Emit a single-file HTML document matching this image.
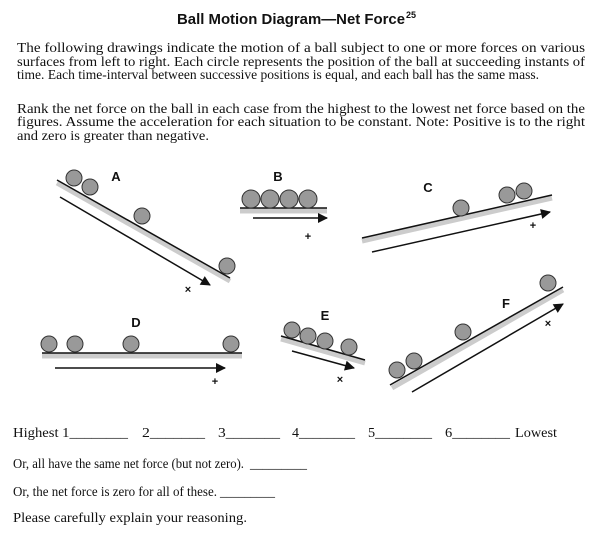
<!DOCTYPE html>
<html><head><style>
body{margin:0;background:#fff}
svg{display:block}
.s{font-family:"Liberation Serif",serif;font-size:13.5px;fill:#111}
.h{font-family:"Liberation Sans",sans-serif;font-weight:bold;fill:#111}
</style></head><body>
<svg width="600" height="543" viewBox="0 0 600 543" xmlns="http://www.w3.org/2000/svg">
<defs>
<marker id="a2" viewBox="0 0 10 10" refX="9" refY="5" markerWidth="15" markerHeight="10" orient="auto" markerUnits="userSpaceOnUse"><path d="M0,0 L10,5 L0,10z" fill="#111"/></marker></defs>
<text class="h" x="177" y="24" font-size="15" textLength="228" lengthAdjust="spacingAndGlyphs">Ball Motion Diagram—Net Force</text><text class="h" x="406" y="18" font-size="9">25</text>
<g class="s">
<text x="17" y="52" textLength="568" lengthAdjust="spacingAndGlyphs">The following drawings indicate the motion of a ball subject to one or more forces on various</text>
<text x="17" y="66" textLength="568" lengthAdjust="spacingAndGlyphs">surfaces from left to right. Each circle represents the position of the ball at succeeding instants of</text>
<text x="17" y="79" textLength="522" lengthAdjust="spacingAndGlyphs">time. Each time-interval between successive positions is equal, and each ball has the same mass.</text>
<text x="17" y="113" textLength="568" lengthAdjust="spacingAndGlyphs">Rank the net force on the ball in each case from the highest to the lowest net force based on the</text>
<text x="17" y="126" textLength="568" lengthAdjust="spacingAndGlyphs">figures. Assume the acceleration for each situation to be constant. Note: Positive is to the right</text>
<text x="17" y="140" textLength="192" lengthAdjust="spacingAndGlyphs">and zero is greater than negative.</text>
</g>
<g stroke="#ccc" stroke-width="5" fill="none">
<line x1="57" y1="183" x2="230" y2="281"/><line x1="240" y1="211" x2="327" y2="211"/>
<line x1="362" y1="241" x2="552" y2="198"/><line x1="42" y1="356" x2="242" y2="356"/>
<line x1="281" y1="339" x2="365" y2="363"/><line x1="392" y1="388" x2="563" y2="290"/></g>
<g stroke="#111" stroke-width="1.5" fill="none">
<line x1="57" y1="180" x2="230" y2="278"/><line x1="240" y1="208" x2="327" y2="208"/>
<line x1="362" y1="238" x2="552" y2="195"/><line x1="42" y1="353" x2="242" y2="353"/>
<line x1="281" y1="336" x2="365" y2="360"/><line x1="390" y1="385" x2="563" y2="287"/>
<line x1="60" y1="197" x2="210" y2="285" marker-end="url(#a2)"/>
<line x1="253" y1="218" x2="327" y2="218" marker-end="url(#a2)"/>
<line x1="372" y1="252" x2="550" y2="212" marker-end="url(#a2)"/>
<line x1="55" y1="368" x2="225" y2="368" marker-end="url(#a2)"/>
<line x1="292" y1="351" x2="354" y2="368" marker-end="url(#a2)"/>
<line x1="412" y1="392" x2="563" y2="304" marker-end="url(#a2)"/></g>
<g fill="#999" stroke="#333" stroke-width="1">
<circle cx="74" cy="178" r="8"/><circle cx="90" cy="187" r="8"/><circle cx="142" cy="216" r="8"/><circle cx="227" cy="266" r="8"/>
<circle cx="251" cy="199" r="9"/><circle cx="270" cy="199" r="9"/><circle cx="289" cy="199" r="9"/><circle cx="308" cy="199" r="9"/>
<circle cx="461" cy="208" r="8"/><circle cx="507" cy="195" r="8"/><circle cx="524" cy="191" r="8"/>
<circle cx="49" cy="344" r="8"/><circle cx="75" cy="344" r="8"/><circle cx="131" cy="344" r="8"/><circle cx="231" cy="344" r="8"/>
<circle cx="292" cy="330" r="8"/><circle cx="308" cy="336" r="8"/><circle cx="325" cy="341" r="8"/><circle cx="349" cy="347" r="8"/>
<circle cx="397" cy="370" r="8"/><circle cx="414" cy="361" r="8"/><circle cx="463" cy="332" r="8"/><circle cx="548" cy="283" r="8"/></g>
<g class="h" font-size="13" text-anchor="middle">
<text x="116" y="181">A</text><text x="278" y="181">B</text><text x="428" y="192">C</text>
<text x="136" y="327">D</text><text x="325" y="320">E</text><text x="506" y="308">F</text></g>
<g class="h" font-size="11" text-anchor="middle">
<text x="188" y="293">×</text><text x="308" y="240">+</text><text x="533" y="229">+</text>
<text x="215" y="385">+</text><text x="340" y="383">×</text><text x="548" y="327">×</text></g>
<g class="s">
<text x="13" y="437" textLength="115" lengthAdjust="spacingAndGlyphs">Highest 1________</text>
<text x="142" y="437" textLength="63" lengthAdjust="spacingAndGlyphs">2_______</text>
<text x="218" y="437" textLength="62" lengthAdjust="spacingAndGlyphs">3_______</text>
<text x="292" y="437" textLength="63" lengthAdjust="spacingAndGlyphs">4________</text>
<text x="368" y="437" textLength="64" lengthAdjust="spacingAndGlyphs">5________</text>
<text x="445" y="437" textLength="65" lengthAdjust="spacingAndGlyphs">6________</text>
<text x="515" y="437" textLength="42" lengthAdjust="spacingAndGlyphs">Lowest</text>
<text x="13" y="468" textLength="231" lengthAdjust="spacingAndGlyphs">Or, all have the same net force (but not zero).</text>
<text x="250" y="468" textLength="57" lengthAdjust="spacingAndGlyphs">_________</text>
<text x="13" y="496" textLength="204" lengthAdjust="spacingAndGlyphs">Or, the net force is zero for all of these.</text>
<text x="220" y="496" textLength="55" lengthAdjust="spacingAndGlyphs">_________</text>
<text x="13" y="522" textLength="234" lengthAdjust="spacingAndGlyphs">Please carefully explain your reasoning.</text></g>
</svg>
</body></html>
